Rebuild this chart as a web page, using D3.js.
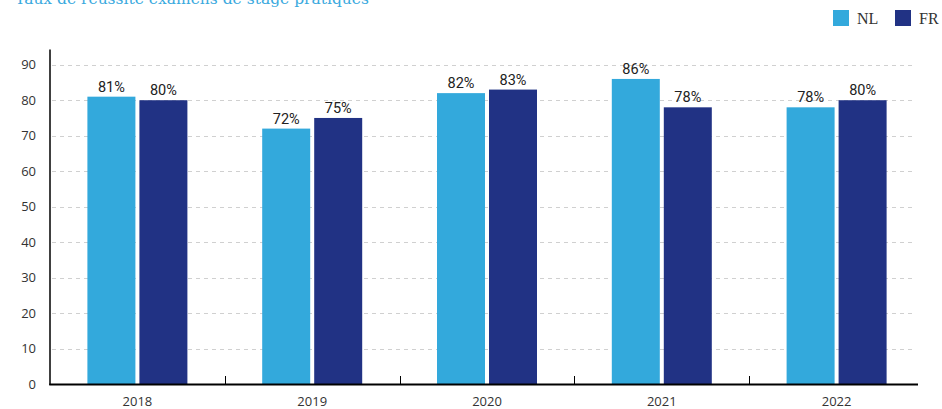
<!DOCTYPE html>
<html>
<head>
<meta charset="utf-8">
<script src="https://cdn.jsdelivr.net/npm/d3@7"></script>
<style>
  html, body { margin: 0; padding: 0; background: #fff; }
  svg { display: block; }
</style>
</head>
<body>
<svg id="chart" width="942" height="409"></svg>
<script>
const title = "Taux de réussite examens de stage pratiques";
const years = ["2018", "2019", "2020", "2021", "2022"];
const seriesNames = ["NL", "FR"];
const nlValues = [81, 72, 82, 86, 78];
const frValues = [80, 75, 83, 78, 80];
const yTicks = [0, 10, 20, 30, 40, 50, 60, 70, 80, 90];
const colors = { NL: "#33a9dc", FR: "#213284" };

const data = years.map((y, i) => ({ year: y, NL: nlValues[i], FR: frValues[i] }));

const svg = d3.select("#chart");
const left = 50, right = 924, axisEnd = 918, gridEnd = 916;
const y0 = 384, yTop = 49.5;

const x0 = d3.scaleBand().domain(years).range([left, right]).padding(0);
const groupW = 100;
const x1 = d3.scaleBand().domain(seriesNames).range([0, groupW]).paddingInner(0.0769);
const y = d3.scaleLinear().domain([0, 94.3]).range([y0, yTop]);

// title (partially cut off at top)
svg.append("text")
  .attr("x", 15).attr("y", 4)
  .attr("font-family", "'DejaVu Serif', serif")
  .attr("font-size", 15.5)
  .attr("fill", "#3aa9de")
  .text(title);

// grid lines
svg.append("g").selectAll("line").data(yTicks.filter(d => d > 0)).join("line")
  .attr("x1", left + 2).attr("x2", gridEnd)
  .attr("y1", d => Math.round(y(d)) + 0.5).attr("y2", d => Math.round(y(d)) + 0.5)
  .attr("stroke", "#d0d0d0").attr("stroke-width", 1)
  .attr("stroke-dasharray", "4,4");

// y axis labels
svg.append("g").selectAll("text").data(yTicks).join("text")
  .attr("x", 36).attr("y", d => y(d))
  .attr("dy", "0.35em")
  .attr("text-anchor", "end")
  .attr("font-family", "'Open Sans', sans-serif")
  .attr("font-size", 13)
  .attr("fill", "#333")
  .text(d => d);

// bars
const groups = svg.append("g").selectAll("g").data(data).join("g")
  .attr("transform", d => `translate(${x0(d.year) + (x0.bandwidth() - groupW) / 2},0)`);

groups.selectAll("rect").data(d => seriesNames.map(k => ({ key: k, value: d[k] }))).join("rect")
  .attr("x", d => x1(d.key))
  .attr("width", x1.bandwidth())
  .attr("y", d => y(d.value))
  .attr("height", d => y0 - y(d.value))
  .attr("fill", d => colors[d.key]);

groups.selectAll("text").data(d => seriesNames.map(k => ({ key: k, value: d[k] }))).join("text")
  .attr("x", d => x1(d.key) + x1.bandwidth() / 2)
  .attr("y", d => y(d.value) - 5)
  .attr("text-anchor", "middle")
  .attr("font-family", "Roboto, sans-serif")
  .attr("font-size", 14.5)
  .attr("fill", "#222")
  .text(d => d.value + "%");

// y axis line
svg.append("line")
  .attr("x1", left).attr("x2", left)
  .attr("y1", yTop).attr("y2", y0 + 1)
  .attr("stroke", "#000").attr("stroke-width", 1.5);

// x axis line
svg.append("line")
  .attr("x1", left - 0.75).attr("x2", axisEnd)
  .attr("y1", y0 + 0.5).attr("y2", y0 + 0.5)
  .attr("stroke", "#000").attr("stroke-width", 2);

// x ticks at band boundaries (pointing up)
svg.append("g").selectAll("line").data(years.slice(1)).join("line")
  .attr("x1", d => Math.round(x0(d)) + 0.5).attr("x2", d => Math.round(x0(d)) + 0.5)
  .attr("y1", y0 - 8).attr("y2", y0)
  .attr("stroke", "#000").attr("stroke-width", 1);

// x labels
svg.append("g").selectAll("text").data(years).join("text")
  .attr("x", d => x0(d) + x0.bandwidth() / 2)
  .attr("y", 406)
  .attr("text-anchor", "middle")
  .attr("font-family", "'Open Sans', sans-serif")
  .attr("font-size", 13)
  .attr("fill", "#333")
  .text(d => d);

// legend
const legend = svg.append("g");
const legendItems = [{ key: "NL", x: 833 }, { key: "FR", x: 895 }];
legendItems.forEach(it => {
  legend.append("rect")
    .attr("x", it.x).attr("y", 10).attr("width", 16).attr("height", 16)
    .attr("fill", colors[it.key]);
  legend.append("text")
    .attr("x", it.x + 24).attr("y", 24)
    .attr("font-family", "'Liberation Serif', serif")
    .attr("font-size", 16)
    .attr("fill", "#333")
    .text(it.key);
});
</script>
</body>
</html>
